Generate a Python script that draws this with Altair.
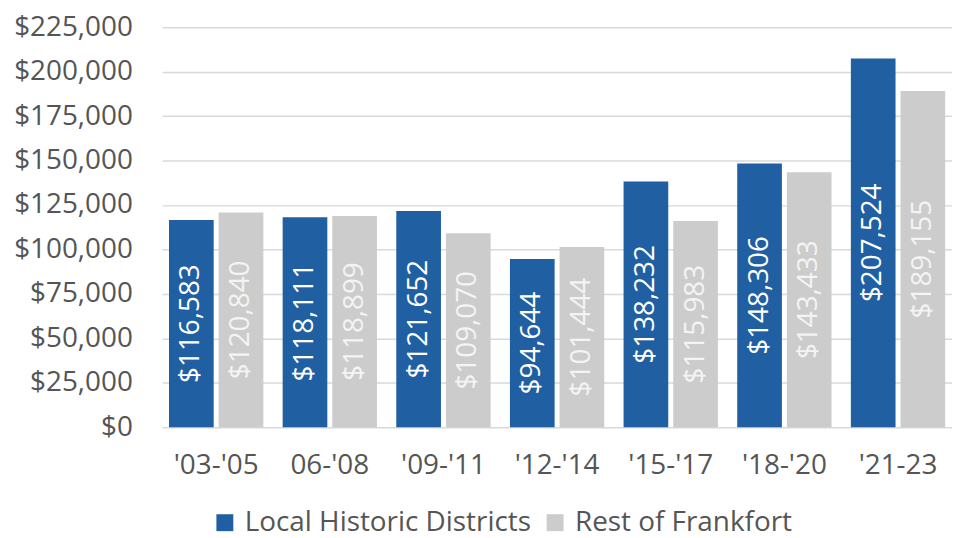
import altair as alt
import pandas as pd

periods = ["'03-'05", "06-'08", "'09-'11", "'12-'14", "'15-'17", "'18-'20", "'21-23"]
local_values = [116583, 118111, 121652, 94644, 138232, 148306, 207524]
rest_values = [120840, 118899, 109070, 101444, 115983, 143433, 189155]
series_names = ["Local Historic Districts", "Rest of Frankfort"]
y_ticks = [0, 25000, 50000, 75000, 100000, 125000, 150000, 175000, 200000, 225000]

rows = []
for p, a, b in zip(periods, local_values, rest_values):
    rows.append({"period": p, "series": series_names[0], "value": a})
    rows.append({"period": p, "series": series_names[1], "value": b})
df = pd.DataFrame(rows)

FONT = "Open Sans"
TXT = "#555555"
FS = 28

x = alt.X("period:N", sort=periods, title=None,
          scale=alt.Scale(paddingInner=0.17, paddingOuter=0.06),
          axis=alt.Axis(labelAngle=0, labelFontSize=FS, labelColor=TXT, labelFont=FONT,
                        labelPadding=25, ticks=False, domain=False, grid=False))
xoff = alt.XOffset("series:N", sort=series_names, scale=alt.Scale(paddingInner=0.1))
yscale = alt.Scale(domain=[0, 225000])
yaxis = alt.Axis(values=y_ticks, format="$,.0f", labelFontSize=FS, labelColor=TXT,
                 labelFont=FONT, labelPadding=30, ticks=False, domain=False,
                 minExtent=150, maxExtent=150, gridColor="#d9d9d9", gridWidth=1.5)

bars = alt.Chart(df).mark_bar().encode(
    x=x,
    xOffset=xoff,
    y=alt.Y("value:Q", title=None, scale=yscale, axis=yaxis),
    color=alt.Color("series:N", sort=series_names,
                    scale=alt.Scale(domain=series_names, range=["#1f5fa2", "#cccccc"]),
                    legend=alt.Legend(title=None, orient="none", direction="horizontal",
                                      legendX=49, legendY=484,
                                      symbolType="square", symbolSize=289, symbolStrokeWidth=0,
                                      labelFontSize=FS, labelColor=TXT, labelFont=FONT,
                                      labelLimit=500, columnPadding=10, labelOffset=6)),
)

labels = alt.Chart(df).transform_calculate(mid="datum.value / 2").mark_text(
    angle=270, fontSize=FS, font=FONT, align="center", baseline="middle"
).encode(
    x=x,
    xOffset=xoff,
    y=alt.Y("mid:Q", title=None, scale=yscale, axis=yaxis),
    text=alt.Text("value:Q", format="$,.0f"),
    color=alt.condition(alt.datum.series == series_names[0], alt.value("#ffffff"), alt.value("#f4f4f4")),
)

chart = alt.layer(bars, labels).properties(
    width=794, height=402,
    padding={"left": 5, "top": 4, "right": 0, "bottom": 6},
).configure_view(stroke=None)

chart.save("out.html", embed_options={"renderer": "svg", "actions": False})
